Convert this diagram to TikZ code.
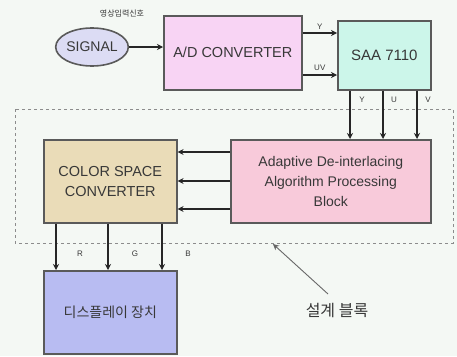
\documentclass[tikz,border=0pt]{standalone}
\usepackage{fontspec}
\setmainfont{Liberation Sans}
\newfontfamily\kofont{Noto Sans CJK KR}
\usetikzlibrary{arrows.meta,shapes.geometric}

\definecolor{bgcol}{HTML}{F4F8F4}
\definecolor{adcol}{HTML}{F8D4F4}
\definecolor{saacol}{HTML}{CCF6EA}
\definecolor{adpcol}{HTML}{F8CADA}
\definecolor{csccol}{HTML}{EADCB8}
\definecolor{dispcol}{HTML}{B8BCF2}
\definecolor{sigcol}{HTML}{DCDCF4}
\definecolor{edgecol}{HTML}{5A5A5A}
\definecolor{txtcol}{HTML}{383838}

\tikzset{
  blk/.style={draw=edgecol,line width=1.6pt,inner sep=0pt,anchor=north west,text=txtcol},
  arr/.style={->,line width=1.2pt,draw=black!85},
  lbl/.style={font=\fontsize{8}{9}\selectfont,text=txtcol}
}

\begin{document}
\begin{tikzpicture}[x=1pt,y=-1pt,>={Stealth[length=6pt,width=6pt]}]
    \fill[bgcol] (0,0) rectangle (457,356);
    \useasboundingbox (0,0) rectangle (457,356);
    % dashed design block
    \draw [dashed,draw=black!45,line width=0.8pt] (15,109) rectangle (453,243);

    \node [ellipse,draw=edgecol,line width=1.6pt,fill=sigcol,minimum width=70pt,minimum height=38pt,inner sep=0pt,text=txtcol,font=\fontsize{14}{15}\selectfont] (sig) at (92,47){SIGNAL};
    \node [font={\kofont\fontsize{8}{9}\selectfont},text=txtcol] (siglbl) at (122,14){영상입력신호};
    \node [blk,fill=adcol,minimum width=138pt,minimum height=74pt,font=\fontsize{14.5}{16}\selectfont] (ad) at (163,15){A/D CONVERTER};
    \node [blk,fill=saacol,minimum width=93pt,minimum height=69pt,font=\fontsize{15}{16}\selectfont] (saa) at (337,20){SAA 7110};
    \node [blk,fill=adpcol,minimum width=200pt,minimum height=83pt,align=center,font=\fontsize{14}{20}\selectfont] (adp) at (230,139){Adaptive De-interlacing\\Algorithm Processing\\Block};
    \node [blk,fill=csccol,minimum width=133pt,minimum height=83pt,align=center,font=\fontsize{14.5}{20}\selectfont] (csc) at (43,139){COLOR SPACE\\CONVERTER};
    \node [blk,fill=dispcol,minimum width=133pt,minimum height=83pt,font={\kofont\fontsize{14}{16}\selectfont}] (disp) at (43,270){디스플레이 장치};
    \node [font={\kofont\fontsize{16}{18}\selectfont},text=txtcol] (dblk) at (337,311){설계 블록};

    \draw [arr] (sig.east) -- (ad.west |- sig.east);
    \draw [arr] (ad.east |- 0,33) -- (saa.west |- 0,33) node[lbl,midway,above]{Y};
    \draw [arr] (ad.east |- 0,75) -- (saa.west |- 0,75) node[lbl,midway,above]{UV};

    \draw [arr] (saa.south -| 350,0) -- (adp.north -| 350,0);
    \draw [arr] (saa.south -| 383,0) -- (adp.north -| 383,0);
    \draw [arr] (saa.south -| 417,0) -- (adp.north -| 417,0);
    \node [lbl] (ylbl) at (362,100){Y};
    \node [lbl] (ulbl) at (394,100){U};
    \node [lbl] (vlbl) at (428,100){V};

    \draw [arr] (adp.west |- 0,152) -- (csc.east |- 0,152);
    \draw [arr] (adp.west |- 0,181) -- (csc.east |- 0,181);
    \draw [arr] (adp.west |- 0,209) -- (csc.east |- 0,209);

    \draw [arr] (csc.south -| 56,0) -- (disp.north -| 56,0);
    \draw [arr] (csc.south -| 108,0) -- (disp.north -| 108,0);
    \draw [arr] (csc.south -| 162,0) -- (disp.north -| 162,0);
    \node [lbl] (rlbl) at (80,254){R};
    \node [lbl] (glbl) at (135,254){G};
    \node [lbl] (blbl) at (188,254){B};

    \coordinate (tip) at (273,244);
    \coordinate (tail) at (328,294);
    \draw [->,line width=0.9pt,draw=black!60] (tail) -- (tip);
\end{tikzpicture}
\end{document}
